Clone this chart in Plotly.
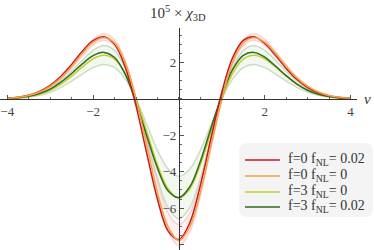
import plotly.graph_objects as go

nu = [-4.0, -3.75, -3.5, -3.25, -3.0, -2.75, -2.5, -2.25, -2.0, -1.75, -1.5, -1.25, -1.0,
      -0.75, -0.5, -0.25, 0.0, 0.25, 0.5, 0.75, 1.0, 1.25, 1.5, 1.75, 2.0, 2.25, 2.5,
      2.75, 3.0, 3.25, 3.5, 3.75, 4.0]

red_f0_fnl002 = [0.05, 0.10, 0.21, 0.42, 0.75, 1.25, 1.90, 2.62, 3.20, 3.42, 3.00, 1.74, -0.38,
                 -2.99, -5.51, -7.26, -7.72, -6.82, -4.75, -2.13, 0.38, 2.26, 3.22, 3.42, 3.05, 2.40, 1.68,
                 1.07, 0.63, 0.34, 0.17, 0.08, 0.03]
orange_f0_fnl0 = [0.04, 0.09, 0.19, 0.38, 0.69, 1.16, 1.79, 2.51, 3.12, 3.36, 3.08, 2.00, 0.0,
                  -2.56, -5.13, -7.04, -7.78, -7.04, -5.13, -2.56, 0.0, 2.00, 3.08, 3.36, 3.12, 2.51, 1.79,
                  1.16, 0.69, 0.38, 0.19, 0.09, 0.04]
yellow_f3_fnl0 = [0.03, 0.06, 0.13, 0.26, 0.48, 0.82, 1.26, 1.76, 2.21, 2.40, 2.19, 1.40, 0.0,
                  -1.80, -3.61, -4.95, -5.45, -4.95, -3.61, -1.80, 0.0, 1.40, 2.19, 2.40, 2.21, 1.76, 1.26,
                  0.82, 0.48, 0.26, 0.13, 0.06, 0.03]
dkgreen_f3_fnl002 = [0.03, 0.07, 0.15, 0.30, 0.54, 0.92, 1.40, 1.93, 2.38, 2.56, 2.28, 1.35, -0.19,
                     -2.02, -3.80, -5.06, -5.42, -4.84, -3.42, -1.58, 0.19, 1.61, 2.40, 2.56, 2.30, 1.81, 1.28,
                     0.82, 0.48, 0.26, 0.13, 0.06, 0.03]

pink_outer = [0.04, 0.09, 0.20, 0.40, 0.72, 1.21, 1.86, 2.61, 3.28, 3.58, 3.25, 2.08, 0.0,
              -2.66, -5.34, -7.32, -8.06, -7.32, -5.34, -2.66, 0.0, 2.08, 3.25, 3.58, 3.28, 2.61, 1.86,
              1.21, 0.72, 0.40, 0.20, 0.09, 0.04]
pink_inner = [0.04, 0.08, 0.18, 0.36, 0.65, 1.09, 1.68, 2.36, 2.96, 3.22, 2.93, 1.88, 0.0,
              -2.28, -4.57, -6.27, -6.90, -6.27, -4.57, -2.28, 0.0, 1.88, 2.93, 3.22, 2.96, 2.36, 1.68,
              1.09, 0.65, 0.36, 0.18, 0.08, 0.04]
green_outer = [0.03, 0.07, 0.16, 0.31, 0.58, 0.99, 1.52, 2.13, 2.67, 2.94, 2.67, 1.69, 0.0,
               -2.18, -4.37, -5.99, -6.59, -5.99, -4.37, -2.18, 0.0, 1.69, 2.67, 2.94, 2.67, 2.13, 1.52,
               0.99, 0.58, 0.31, 0.16, 0.07, 0.03]
green_inner = [0.02, 0.05, 0.10, 0.20, 0.37, 0.64, 0.98, 1.37, 1.72, 1.90, 1.72, 1.09, 0.0,
               -1.40, -2.82, -3.86, -4.25, -3.86, -2.82, -1.40, 0.0, 1.09, 1.72, 1.90, 1.72, 1.37, 0.98,
               0.64, 0.37, 0.20, 0.10, 0.05, 0.02]

x_ticks = [-4, -2, 2, 4]
x_ticktext = ["\u22124", "\u22122", "2", "4"]
y_ticks = [-8, -6, -4, -2, 2]
y_ticktext = ["\u22128", "\u22126", "\u22124", "\u22122", "2"]

series = [
    ("f=0 f<sub>NL</sub>= 0.02", red_f0_fnl002, "#c8191e"),
    ("f=0 f<sub>NL</sub>= 0", orange_f0_fnl0, "#f5a145"),
    ("f=3 f<sub>NL</sub>= 0", yellow_f3_fnl0, "#bfd22b"),
    ("f=3 f<sub>NL</sub>= 0.02", dkgreen_f3_fnl002, "#2f6a22"),
]

XR = [-4.17, 4.15]
YR = [-8.3, 3.9]
SERIF = "Liberation Serif"
W, H = 374, 250
ML, MR, MT, MB = 0, 17, 28, 0
PW, PH = W - ML - MR, H - MT - MB


def px(xp):
    return (xp - ML) / PW


def py(yp):
    return (H - MB - yp) / PH


fig = go.Figure()


def band(lo, hi, edge, fill):
    fig.add_trace(go.Scatter(x=nu, y=lo, mode="lines", line=dict(color=edge, width=1.5, shape="spline"),
                             showlegend=False, hoverinfo="skip"))
    fig.add_trace(go.Scatter(x=nu, y=hi, mode="lines", line=dict(color=edge, width=1.5, shape="spline"),
                             fill="tonexty", fillcolor=fill, showlegend=False, hoverinfo="skip"))


band(green_inner, green_outer, "rgba(175,200,165,0.6)", "rgba(215,232,205,0.32)")
band(pink_inner, pink_outer, "rgba(240,165,165,0.45)", "rgba(245,190,190,0.22)")

draw_order = [2, 3, 0, 1]
for i in draw_order:
    name, vals, col = series[i]
    fig.add_trace(go.Scatter(x=nu, y=vals, mode="lines", name=name, showlegend=False,
                             line=dict(color=col, width=1.5, shape="spline")))

ypos = (0 - YR[0]) / (YR[1] - YR[0])
xpos = (0 - XR[0]) / (XR[1] - XR[0])

fig.update_layout(
    width=W, height=H,
    margin=dict(l=ML, r=MR, t=MT, b=MB, autoexpand=False),
    paper_bgcolor="white", plot_bgcolor="white",
    font=dict(family=SERIF, size=12, color="#333"),
    xaxis=dict(range=XR, showgrid=False, zeroline=False, showline=True, linecolor="#333", linewidth=1,
               anchor="free", position=ypos, ticks="inside", ticklen=4, tickcolor="#555",
               tickvals=x_ticks, ticktext=x_ticktext, tickfont=dict(family=SERIF, size=13, color="#444"),
               minor=dict(ticks="inside", ticklen=2, tick0=0, dtick=0.5, tickcolor="#666"),
               fixedrange=True, automargin=False),
    yaxis=dict(range=YR, showgrid=False, zeroline=False, showline=True, linecolor="#333", linewidth=1,
               anchor="free", position=xpos, ticks="inside", ticklen=4, tickcolor="#555",
               tickvals=y_ticks, ticktext=y_ticktext, tickfont=dict(family=SERIF, size=13, color="#444"),
               minor=dict(ticks="inside", ticklen=2, tick0=0, dtick=0.5, tickcolor="#666"),
               fixedrange=True, automargin=False),
    showlegend=False,
)

# rounded legend background
x0, x1 = px(239), px(373)
y0, y1 = py(217), py(143)
rx, ry = 9 / PW, 9 / PH
path = (f"M {x0+rx},{y0} L {x1-rx},{y0} Q {x1},{y0} {x1},{y0+ry} L {x1},{y1-ry} Q {x1},{y1} {x1-rx},{y1} "
        f"L {x0+rx},{y1} Q {x0},{y1} {x0},{y1-ry} L {x0},{y0+ry} Q {x0},{y0} {x0+rx},{y0} Z")
fig.add_shape(type="path", path=path, xref="paper", yref="paper", fillcolor="rgba(243,243,243,0.92)",
              line=dict(width=0), layer="above")

row_y = [159, 175, 191, 206]
for (name, vals, col), ry_ in zip(series, row_y):
    fig.add_shape(type="line", xref="paper", yref="paper", x0=px(245), x1=px(280),
                  y0=py(ry_ + 1), y1=py(ry_ + 1), line=dict(color=col, width=1.6), layer="above")
    fig.add_annotation(text=name, xref="paper", yref="paper", x=px(286), y=py(ry_),
                       xanchor="left", yanchor="middle", showarrow=False,
                       font=dict(family=SERIF, size=14, color="#333"))

fig.add_annotation(text="10<sup>5</sup> \u00d7 <i>\u03c7</i><sub>3D</sub>", xref="paper", yref="paper",
                   x=px(178), y=py(13), xanchor="center", yanchor="middle", showarrow=False,
                   font=dict(family=SERIF, size=15, color="#333"))
fig.add_annotation(text="<i>\u03bd</i>", xref="paper", yref="paper", x=px(368), y=ypos,
                   xanchor="center", yanchor="middle", showarrow=False,
                   font=dict(family=SERIF, size=15, color="#333"))

fig.write_html("out.html", config={"displayModeBar": False},
               post_script="document.body.style.margin='0';document.body.style.padding='0';")
